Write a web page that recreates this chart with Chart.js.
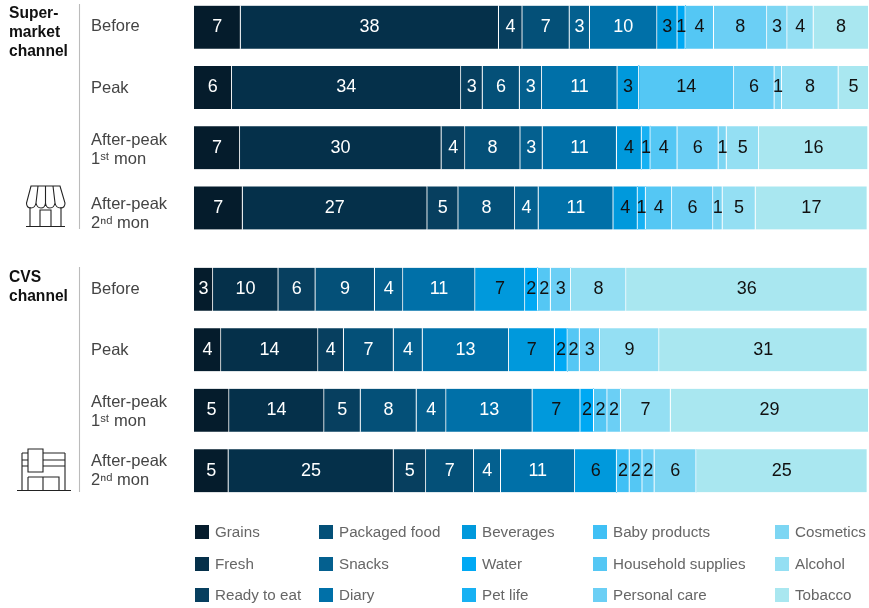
<!DOCTYPE html>
<html>
<head>
<meta charset="utf-8">
<script src="https://cdn.jsdelivr.net/npm/chart.js@4"></script>
<style>
  html, body { margin: 0; padding: 0; background: #fff; }
  body { position: relative; width: 869px; height: 608px; overflow: hidden; font-family: "Liberation Sans", Arial, sans-serif; }
  canvas { position: absolute; left: 0; }
  #overlay { position: absolute; left: 0; top: 0; }
  .group { position: absolute; left: 9px; font-weight: bold; font-size: 15.6px; line-height: 19px; color: #111; }
  .key { position: absolute; font-size: 15.2px; line-height: 16px; color: #666; white-space: nowrap; }
  .key i { position: absolute; left: 0; top: 1px; width: 14px; height: 14px; }
  .key span { position: absolute; left: 20px; top: 0; }
</style>
</head>
<body>
<canvas id="superChart" style="top:-3px"></canvas>
<canvas id="cvsChart" style="top:259px"></canvas>

<div class="group" style="top:3px">Super-<br>market<br>channel</div>
<div class="group" style="top:267px">CVS<br>channel</div>

<svg id="overlay" width="869" height="608" fill="none" stroke="#222" stroke-width="1.1">
  <line x1="79.5" y1="4" x2="79.5" y2="229" stroke="#bbb"/>
  <line x1="79.5" y1="267" x2="79.5" y2="492" stroke="#bbb"/>
  <!-- shop -->
  <path d="M31 186H60L65 203Q65 208 60.5 208Q56 208 55 203Q54 208 50 208Q46 208 45.5 203Q45 208 41 208Q37 208 36 203Q35 208 31 208Q26.5 208 26.5 203Z"/>
  <path d="M36 203L38 186M45.5 203L45.5 186M55 203L53 186"/>
  <path d="M30 207V226M61 207V226M26 226.5H65M40 226V210H51V226"/>
  <!-- convenience store -->
  <path d="M17 490.5H71M22 490V453M65 490V453M22 453H28M43 453H65M22 460H28M43 460H65M22 466H28M43 466H65"/>
  <path d="M28 449H43V472H28ZM28 477H59V490M28 477V490M43 477V490"/>
</svg>

<script>
const categories = ['Grains', 'Fresh', 'Ready to eat', 'Packaged food', 'Snacks', 'Diary', 'Beverages', 'Water', 'Pet life', 'Baby products', 'Household supplies', 'Personal care', 'Cosmetics', 'Alcohol', 'Tobacco'];
const colors = ['#051c2c', '#05304a', '#073f5f', '#045078', '#04608f', '#0070a8', '#0099dc', '#00a9f4', '#17b1f3', '#40c0f5', '#54c7f4', '#6bcff5', '#7dd6f3', '#94dff3', '#a9e7f0'];
const rowLabels = ['Before', 'Peak', ['After-peak', '1ˢᵗ mon'], ['After-peak', '2ⁿᵈ mon']];

// shares per category, same order as categories
const superBefore = [6.9, 38.3, 3.5, 7, 3, 10, 3, 1.2, 0, 0, 4.2, 7.9, 3, 3.9, 8.2];
const superPeak = [5.6, 34, 3.2, 5.5, 3.3, 11.2, 3.2, 0, 0, 0, 14.1, 6, 1.1, 8.4, 4.5];
const superAfter1 = [6.8, 29.9, 3.5, 8.2, 3.3, 11, 3.7, 0, 1.3, 0, 4, 6.1, 1.2, 4.8, 16.2];
const superAfter2 = [7.2, 27.4, 4.6, 8.4, 3.5, 11.1, 3.6, 0, 1.2, 0, 3.9, 6.1, 1.4, 4.9, 16.6];
const cvsBefore = [2.8, 9.7, 5.5, 8.8, 4.2, 10.7, 7.4, 1.9, 0, 0, 1.9, 3, 0, 8.2, 35.8];
const cvsPeak = [4, 14.4, 3.8, 7.4, 4.3, 12.8, 6.8, 1.9, 0, 0, 1.8, 3, 0, 8.8, 30.9];
const cvsAfter1 = [5.2, 14.1, 5.4, 8.3, 4.4, 12.8, 7.1, 2, 0, 0, 2, 2, 0, 7.4, 29.4];
const cvsAfter2 = [5.1, 24.5, 4.8, 7.1, 4, 11, 6.2, 0, 0, 1.9, 1.9, 1.8, 6.2, 0, 25.4];

const FIRST_DARK_TEXT = 6; // Beverages onward use dark numbers

const segmentLabels = {
    id: 'segmentLabels',
    afterDatasetsDraw(chart) {
        const ctx = chart.ctx;
        ctx.save();
        ctx.font = '18px "Liberation Sans", Arial, sans-serif';
        ctx.textAlign = 'center';
        ctx.textBaseline = 'middle';
        chart.data.datasets.forEach((ds, i) => {
            ctx.fillStyle = i >= FIRST_DARK_TEXT ? '#111' : '#fff';
            chart.getDatasetMeta(i).data.forEach((bar, r) => {
                if (ds.data[r] > 0) {
                    const c = bar.getCenterPoint();
                    ctx.fillText(Math.round(ds.data[r]), c.x, c.y);
                }
            });
        });
        ctx.restore();
    }
};

// row labels do not sit exactly on the bar centres in the original
const tickNudge = {
    id: 'tickNudge',
    beforeDraw(chart, args, opts) {
        chart.scales.y.getLabelItems().forEach((item, i) => {
            item.options.translation[1] += opts.offsets[i];
        });
    }
};

function makeChart(id, height, rows, offsets) {
    const canvas = document.getElementById(id);
    canvas.width = 869;
    canvas.height = height;
    return new Chart(canvas, {
        type: 'bar',
        data: {
            labels: rowLabels,
            datasets: categories.map((name, i) => ({
                label: name,
                data: rows.map(row => row[i]),
                backgroundColor: colors[i],
                borderColor: '#fff',
                borderWidth: { right: 1 },
                borderSkipped: false,
                barThickness: 43
            }))
        },
        options: {
            indexAxis: 'y',
            responsive: false,
            animation: false,
            layout: { padding: { left: 91, right: 1, top: 0, bottom: 0 } },
            plugins: { legend: { display: false }, tooltip: { enabled: false }, tickNudge: { offsets } },
            scales: {
                x: { stacked: true, min: 0, max: 100, display: false },
                y: {
                    stacked: true,
                    grid: { display: false },
                    border: { display: false },
                    afterFit(scale) {
                        // labels fit inside the rows, no extra room above or below
                        scale.width = 103;
                        scale.paddingTop = 0;
                        scale.paddingBottom = 0;
                    },
                    ticks: {
                        autoSkip: false,
                        crossAlign: 'far',
                        padding: 0,
                        color: '#444',
                        font: { family: '"Liberation Sans", Arial, sans-serif', size: 16.5, lineHeight: 1.15 }
                    }
                }
            }
        },
        plugins: [segmentLabels, tickNudge]
    });
}

makeChart('superChart', 241, [superBefore, superPeak, superAfter1, superAfter2], [-1, 1, 2, 6]);
makeChart('cvsChart', 242, [cvsBefore, cvsPeak, cvsAfter1, cvsAfter2], [0, 1, 2, 0]);

// legend, filled column by column
const keyColumns = [195, 319, 462, 593, 775];
const keyRows = [524, 556, 587];
categories.forEach((name, i) => {
    const key = document.createElement('div');
    key.className = 'key';
    key.style.left = keyColumns[Math.floor(i / 3)] + 'px';
    key.style.top = keyRows[i % 3] + 'px';
    key.innerHTML = '<i style="background:' + colors[i] + '"></i><span>' + name + '</span>';
    document.body.appendChild(key);
});
</script>
</body>
</html>
